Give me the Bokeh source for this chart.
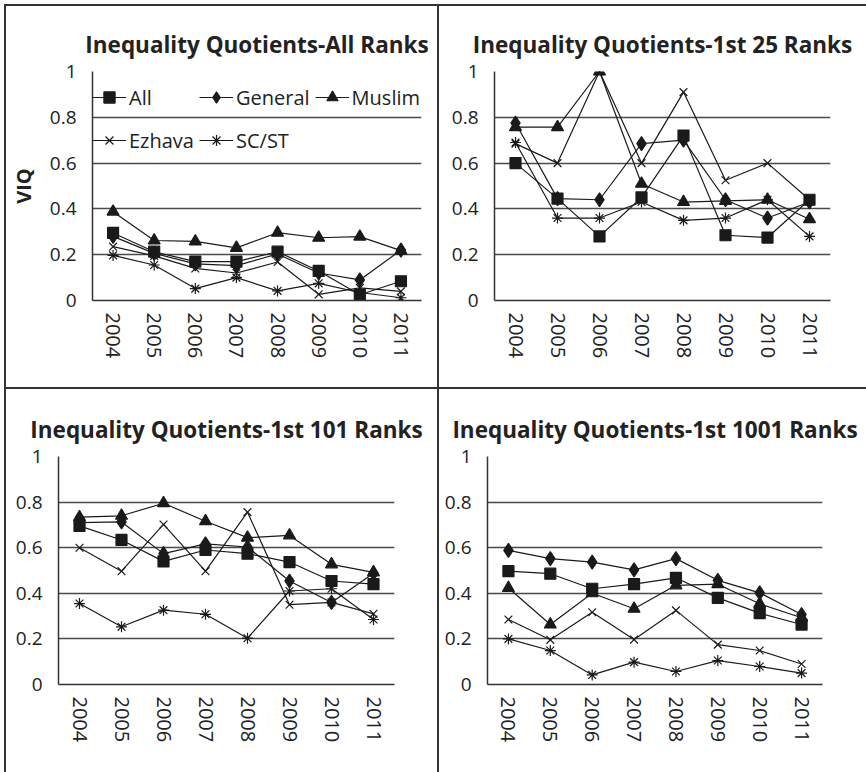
from bokeh.plotting import figure
from bokeh.layouts import column, row
from bokeh.models import Div, Range1d, Legend, LegendItem
from bokeh.embed import file_html
from bokeh.resources import INLINE

# ---------------- data ----------------
YEARS = ["2004", "2005", "2006", "2007", "2008", "2009", "2010", "2011"]
SERIES = ["All", "General", "Muslim", "Ezhava", "SC/ST"]
Y_TICKS = [0, 0.2, 0.4, 0.6, 0.8, 1]

# Inequality Quotients - All Ranks
all_all = [0.295, 0.213, 0.17, 0.17, 0.213, 0.129, 0.025, 0.084]
gen_all = [0.28, 0.206, 0.16, 0.152, 0.203, 0.12, 0.09, 0.22]
mus_all = [0.388, 0.262, 0.258, 0.23, 0.296, 0.274, 0.279, 0.218]
ezh_all = [0.235, 0.195, 0.14, 0.12, 0.168, 0.027, 0.055, 0.04]
sc_all = [0.197, 0.155, 0.052, 0.1, 0.042, 0.075, 0.035, 0.012]

# Inequality Quotients - 1st 25 Ranks
all_25 = [0.60, 0.445, 0.28, 0.45, 0.72, 0.285, 0.275, 0.44]
gen_25 = [0.775, 0.445, 0.44, 0.685, 0.70, 0.44, 0.36, 0.43]
mus_25 = [0.757, 0.757, 1.0, 0.51, 0.43, 0.435, 0.44, 0.355]
ezh_25 = [0.685, 0.60, 1.0, 0.60, 0.91, 0.525, 0.60, 0.44]
sc_25 = [0.69, 0.36, 0.36, 0.43, 0.35, 0.36, 0.44, 0.28]

# Inequality Quotients - 1st 101 Ranks
all_101 = [0.696, 0.634, 0.54, 0.59, 0.574, 0.537, 0.454, 0.44]
gen_101 = [0.71, 0.713, 0.574, 0.617, 0.603, 0.454, 0.36, 0.488]
mus_101 = [0.734, 0.74, 0.795, 0.716, 0.644, 0.654, 0.527, 0.492]
ezh_101 = [0.60, 0.497, 0.702, 0.497, 0.756, 0.35, 0.36, 0.31]
sc_101 = [0.355, 0.253, 0.326, 0.308, 0.203, 0.41, 0.42, 0.285]

# Inequality Quotients - 1st 1001 Ranks
all_1001 = [0.497, 0.486, 0.42, 0.44, 0.468, 0.38, 0.313, 0.263]
gen_1001 = [0.588, 0.552, 0.537, 0.503, 0.552, 0.457, 0.402, 0.307]
mus_1001 = [0.423, 0.263, 0.40, 0.332, 0.435, 0.44, 0.354, 0.293]
ezh_1001 = [0.285, 0.196, 0.317, 0.197, 0.325, 0.175, 0.149, 0.09]
sc_1001 = [0.2, 0.149, 0.042, 0.098, 0.057, 0.105, 0.079, 0.05]

PANELS = [
    ("Inequality Quotients-All Ranks", [all_all, gen_all, mus_all, ezh_all, sc_all]),
    ("Inequality Quotients-1st 25 Ranks", [all_25, gen_25, mus_25, ezh_25, sc_25]),
    ("Inequality Quotients-1st 101 Ranks", [all_101, gen_101, mus_101, ezh_101, sc_101]),
    ("Inequality Quotients-1st 1001 Ranks", [all_1001, gen_1001, mus_1001, ezh_1001, sc_1001]),
]

# ---------------- style ----------------
MARKER = {"All": ("square", 11), "General": ("diamond", 14), "Muslim": ("triangle", 12),
          "Ezhava": ("x", 11), "SC/ST": ("asterisk", 11)}
INK = "#1a1a1a"
FONT = "Open Sans"


def make_panel(title, data, w, h, bl, br, bt, bb, ylabel=None, legend=False):
    p = figure(width=w, height=h, x_range=YEARS, y_range=Range1d(0, 1),
               output_backend="svg", toolbar_location=None, title=title,
               min_border_left=bl, min_border_right=br, min_border_top=bt, min_border_bottom=bb)
    p.outline_line_color = None
    p.background_fill_color = "white"
    p.border_fill_color = "white"

    p.title.align = "center"
    p.title.text_font = FONT
    p.title.text_font_size = "22.5px"
    p.title.text_font_style = "bold"
    p.title.text_color = "#222222"
    p.title.standoff = 24

    p.xgrid.grid_line_color = None
    p.yaxis.ticker = Y_TICKS
    p.ygrid.grid_line_color = "#4a4a4a"
    p.ygrid.grid_line_width = 1.5
    p.yaxis.major_label_overrides = {0: "0", 1: "1"}

    for ax in (p.xaxis[0], p.yaxis[0]):
        ax.axis_line_color = "#333333"
        ax.axis_line_width = 1.5
        ax.major_tick_line_color = None
        ax.minor_tick_line_color = None
        ax.major_label_text_font = FONT
        ax.major_label_text_color = "#222222"
    p.yaxis.major_label_text_font_size = "19px"
    p.yaxis.major_label_standoff = 10
    p.xaxis.major_label_text_font_size = "20px"
    p.xaxis.major_label_standoff = 6
    p.xaxis.major_label_orientation = "vertical"

    if ylabel:
        p.yaxis.axis_label = ylabel
        p.yaxis.axis_label_text_font = FONT
        p.yaxis.axis_label_text_font_size = "20px"
        p.yaxis.axis_label_text_font_style = "bold"
        p.yaxis.axis_label_text_color = "#222222"
        p.yaxis.axis_label_standoff = 10

    items = []
    for name, vals in zip(SERIES, data):
        mk, sz = MARKER[name]
        lr = p.line(YEARS, vals, line_color=INK, line_width=1.2)
        sr = p.scatter(YEARS, vals, marker=mk, size=sz, line_color=INK,
                       fill_color=INK, line_width=1.2)
        items.append(LegendItem(label=name, renderers=[lr, sr]))

    if legend:
        lg = Legend(items=items, location=(0, 141), orientation="horizontal", ncols=3,
                    margin=0, padding=7, spacing=5,
                    glyph_width=34, glyph_height=28, label_height=38, label_standoff=3,
                    label_text_font=FONT, label_text_font_size="20px",
                    label_text_color="#222222",
                    background_fill_alpha=0, border_line_color=None)
        p.add_layout(lg)
    return p


W1, W2 = 431, 427
H1, H2 = 381, 383

p1 = make_panel(PANELS[0][0], PANELS[0][1], W1, H1, 80, 16, 65, 87, ylabel="VIQ", legend=True)
p2 = make_panel(PANELS[1][0], PANELS[1][1], W2, H1, 55, 36, 65, 87)
p3 = make_panel(PANELS[2][0], PANELS[2][1], W1, H2, 52, 43, 67, 88)
p4 = make_panel(PANELS[3][0], PANELS[3][1], W2, H2, 48, 44, 67, 88)

RULE = "#333333"


def vline(hh):
    return Div(text="", width=2, height=hh, margin=0, styles={"background-color": RULE})


def hline(ww):
    return Div(text="", width=ww, height=2, margin=0, styles={"background-color": RULE})


total_w = 2 + W1 + 2 + W2
layout = column(
    hline(total_w),
    row(vline(H1), p1, vline(H1), p2, spacing=0),
    hline(total_w),
    row(vline(H2), p3, vline(H2), p4, spacing=0),
    spacing=0, margin=(4, 0, 0, 4),
)

open("out.html", "w").write(file_html(layout, INLINE))
